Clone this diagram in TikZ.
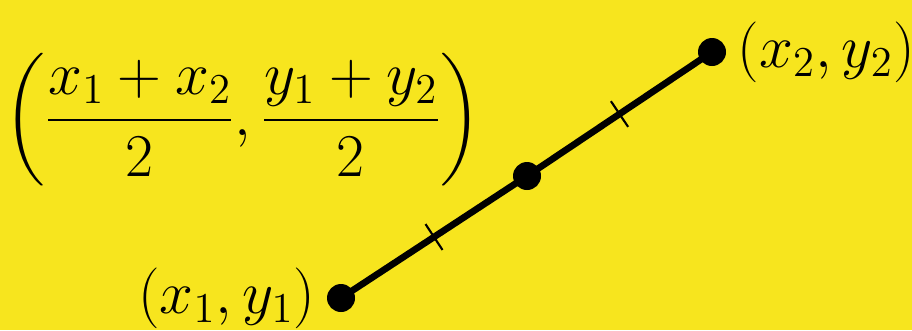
\RequirePackage{fix-cm}
\documentclass[tikz,border=0pt]{standalone}
\usepackage{amsmath}
\usepackage{xcolor}
\usepackage{tikz}
\usetikzlibrary{positioning,calc}

\definecolor{bgyellow}{RGB}{247,229,30}

\begin{document}
\begin{tikzpicture}[
  x=0.375pt, y=-0.375pt,
  node distance=2pt,
  dot/.style={circle, fill=black, inner sep=0pt, minimum size=10.5pt},
  lbl/.style={font=\fontsize{22.8}{27}\selectfont, inner sep=1pt},
  seg/.style={line width=2.5pt},
  tick/.style={line width=0.8pt}
]
\fill[bgyellow] (0,0) rectangle (912,330);
\useasboundingbox (0,0) rectangle (912,330);
\node[dot] (pa) at (341,298) {};
\node[dot] (pm) at (527,176) {};
\node[dot] (pb) at (712,52) {};
\draw[seg] (pa.center) -- (pm.center) -- (pb.center);
% tick marks on both halves
\path (pa) -- (pm) coordinate[pos=0.5] (ta);
\path (pm) -- (pb) coordinate[pos=0.5] (tb);
\draw[tick] ($(ta)!5.8pt!90:(pm)$) -- ($(ta)!5.8pt!-90:(pm)$);
\draw[tick] ($(tb)!5.8pt!90:(pb)$) -- ($(tb)!5.8pt!-90:(pb)$);
\node[lbl, left=3pt of pa] (la) {$(x_1,y_1)$};
\node[lbl, right=3pt of pb] (lb) {$(x_2,y_2)$};
\node[lbl] (lm) at (243,120) {$\displaystyle\biggl(\frac{x_1+x_2}{2},\frac{y_1+y_2}{2}\biggr)$};
\end{tikzpicture}
\end{document}
